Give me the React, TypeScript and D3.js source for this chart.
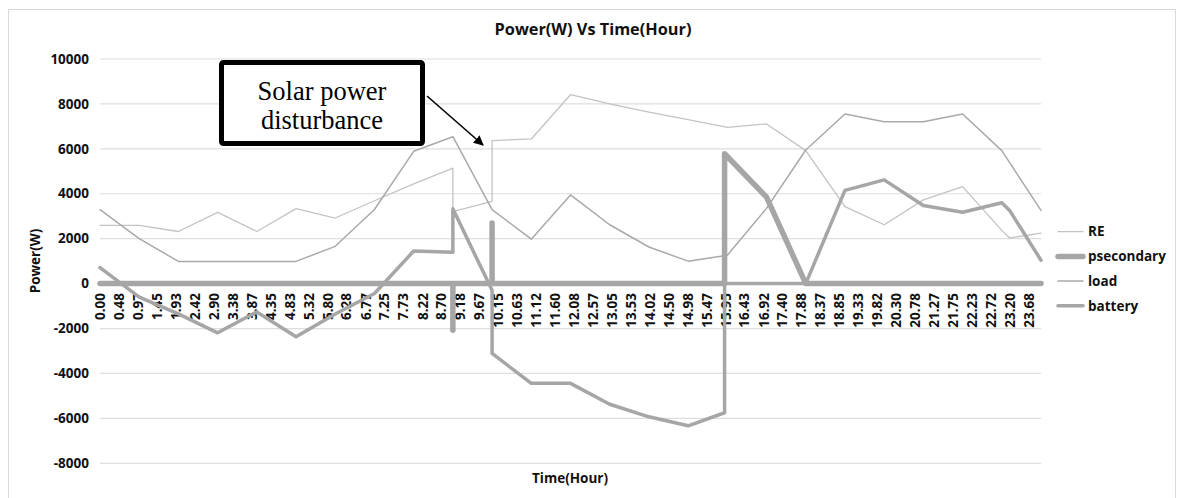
import React from "react";
import * as d3 from "d3";

// hours on the time axis and the readings for each series
const xTickLabels = [
  "0.00", "0.48", "0.97", "1.45", "1.93", "2.42", "2.90", "3.38", "3.87", "4.35",
  "4.83", "5.32", "5.80", "6.28", "6.77", "7.25", "7.73", "8.22", "8.70", "9.18",
  "9.67", "10.15", "10.63", "11.12", "11.60", "12.08", "12.57", "13.05", "13.53", "14.02",
  "14.50", "14.98", "15.47", "15.95", "16.43", "16.92", "17.40", "17.88", "18.37", "18.85",
  "19.33", "19.82", "20.30", "20.78", "21.27", "21.75", "22.23", "22.72", "23.20", "23.68",
];
const yTicks = [-8000, -6000, -4000, -2000, 0, 2000, 4000, 6000, 8000, 10000];

const reTimes = [0, 1, 2, 3, 4, 5, 6, 7, 8, 9, 9, 10, 10, 11, 12, 13, 14, 15, 16, 17, 18, 19, 20, 21, 22, 23, 23.2, 24];
const reValues = [2590, 2590, 2320, 3170, 2320, 3340, 2920, 3690, 4440, 5140, 3210, 3660, 6370, 6440, 8410, 8000, 7630, 7300, 6960, 7110, 5920, 3430, 2620, 3730, 4320, 2370, 2030, 2250];

const psecTimes = [0, 9, 9, 9, 10, 10, 10, 15.93, 15.93, 17, 18, 24];
const psecValues = [0, 0, -2080, 0, 0, 2700, 0, 0, 5780, 3850, 0, 0];

const loadTimes = [0, 1, 2, 3, 4, 5, 6, 7, 8, 9, 10, 11, 12, 13, 14, 15, 16, 17, 18, 19, 20, 21, 22, 23, 24];
const loadValues = [3290, 2000, 990, 990, 990, 990, 1660, 3300, 5890, 6540, 3290, 1980, 3950, 2620, 1630, 1000, 1260, 3350, 5950, 7550, 7210, 7210, 7550, 5920, 3260];

const batteryTimes = [0, 1, 2, 3, 4, 5, 6, 7, 8, 9, 9, 10, 10, 11, 12, 13, 14, 15, 15.93, 15.93, 17, 18, 19, 20, 21, 22, 23, 23.2, 24];
const batteryValues = [710, -600, -1350, -2190, -1260, -2370, -1350, -440, 1450, 1400, 3330, -300, -3110, -4440, -4440, -5370, -5930, -6330, -5750, 0, 0, 0, 4150, 4620, 3480, 3180, 3600, 3260, 1040];

const series = [
  { name: "RE", times: reTimes, values: reValues, color: "#c3c3c3", width: 1.3 },
  { name: "psecondary", times: psecTimes, values: psecValues, color: "#a6a6a6", width: 5.5 },
  { name: "load", times: loadTimes, values: loadValues, color: "#a9a9a9", width: 1.5 },
  { name: "battery", times: batteryTimes, values: batteryValues, color: "#a6a6a6", width: 3.5 },
];

const font = "'Open Sans', Lato, sans-serif";
const ink = "#111";

export default function App() {
  const x = d3.scaleLinear().domain([0, 24]).range([100, 1041]);
  const y = d3.scaleLinear().domain([-8000, 10000]).range([463.3, 59]);

  const line = d3
    .line<[number, number]>()
    .x((d) => x(d[0]))
    .y((d) => y(d[1]));

  return (
    <svg
      width={1177}
      height={498}
      style={{ position: "absolute", left: 0, top: 0, background: "#fff" }}
    >
      <defs>
        <marker id="arrowHead" viewBox="0 0 10 10" refX="9" refY="5" markerWidth="10" markerHeight="10" markerUnits="userSpaceOnUse" orient="auto">
          <path d="M0,0 L10,5 L0,10 z" fill="#000" />
        </marker>
      </defs>
      <rect x={8.5} y={9.5} width={1167} height={500} fill="#fff" stroke="#d9d9d9" strokeWidth={1} />

      {/* grid */}
      {yTicks.map((t) => (
        <line key={t} x1={100} x2={1041} y1={y(t)} y2={y(t)} stroke="#dedede" strokeWidth={1.2} />
      ))}

      {/* y tick labels */}
      {yTicks.map((t) => (
        <text key={"l" + t} x={89} y={y(t)} dy="0.35em" textAnchor="end" fontFamily={font} fontWeight={700} fontSize={13.5} fill={ink}>
          {t}
        </text>
      ))}

      {/* x tick labels */}
      {xTickLabels.map((lab) => {
        const px = x(parseFloat(lab));
        return (
          <text key={lab} transform={`translate(${px + 0.5},293) rotate(-90)`} dy="0.35em" textAnchor="end" fontFamily={font} fontWeight={700} fontSize={13.5} fill={ink}>
            {lab}
          </text>
        );
      })}

      {/* series */}
      {series.map((s) => (
        <path
          key={s.name}
          d={line(s.times.map((t, i) => [t, s.values[i]] as [number, number])) || ""}
          fill="none"
          stroke={s.color}
          strokeWidth={s.width}
          strokeLinejoin="round"
          strokeLinecap="round"
        />
      ))}

      {/* titles */}
      <text x={593} y={35} textAnchor="middle" fontFamily={font} fontWeight={700} fontSize={16.3} fill={ink}>
        Power(W) Vs Time(Hour)
      </text>
      <text x={570} y={483} textAnchor="middle" fontFamily={font} fontWeight={700} fontSize={13.5} fill={ink}>
        Time(Hour)
      </text>
      <text transform="translate(35,261) rotate(-90)" dy="0.35em" textAnchor="middle" fontFamily={font} fontWeight={700} fontSize={13.5} fill={ink}>
        Power(W)
      </text>

      {/* legend */}
      {series.map((s, i) => {
        const ly = 231.7 + i * 24.7;
        return (
          <g key={"lg" + s.name}>
            <line x1={1058} x2={1083} y1={ly} y2={ly} stroke={s.color} strokeWidth={s.width} strokeLinecap="round" />
            <text x={1088} y={ly} dy="0.35em" fontFamily={font} fontWeight={700} fontSize={13.5} fill={ink}>
              {s.name}
            </text>
          </g>
        );
      })}

      {/* annotation */}
      <rect x={221.5} y={62.5} width={201} height={81} rx={2} fill="#fff" stroke="#000" strokeWidth={5} />
      <text x={322} y={100} textAnchor="middle" fontFamily="'Liberation Serif', 'Times New Roman', serif" fontSize={26.5} fill="#000">
        Solar power
      </text>
      <text x={322} y={128.5} textAnchor="middle" fontFamily="'Liberation Serif', 'Times New Roman', serif" fontSize={26.5} fill="#000">
        disturbance
      </text>
      <line x1={427} y1={96} x2={483} y2={145} stroke="#000" strokeWidth={1.6} markerEnd="url(#arrowHead)" />
    </svg>
  );
}
